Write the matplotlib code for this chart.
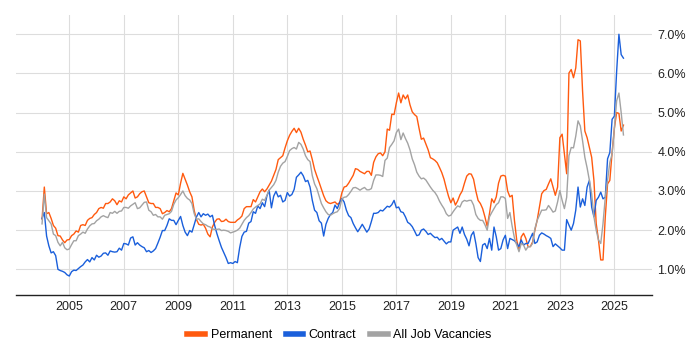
import numpy as np
import matplotlib
matplotlib.use("Agg")
import matplotlib.pyplot as plt
from matplotlib.lines import Line2D

plt.rcParams["font.family"] = ["Liberation Sans", "DejaVu Sans"]

# monthly share of vacancies (%), Jan 2004 .. May 2025
START_YEAR = 2004

permanent = [
    2.28, 3.10, 2.42, 2.45, 2.30, 2.12, 2.05, 1.86, 1.85, 1.75, 1.68, 1.75,  # 2004
    1.76, 1.86, 1.90, 1.98, 1.95, 2.12, 2.14, 2.12, 2.25, 2.30, 2.32, 2.40,  # 2005
    2.45, 2.55, 2.58, 2.56, 2.68, 2.68, 2.72, 2.80, 2.75, 2.65, 2.75, 2.72,  # 2006
    2.85, 2.80, 2.90, 2.95, 3.00, 2.82, 2.85, 2.93, 2.98, 3.00, 2.85, 2.70,  # 2007
    2.68, 2.68, 2.58, 2.58, 2.55, 2.42, 2.45, 2.50, 2.47, 2.55, 2.75, 2.95,  # 2008
    2.90, 3.20, 3.45, 3.30, 3.15, 2.98, 2.85, 2.50, 2.27, 2.15, 2.13, 2.15,  # 2009
    2.05, 1.90, 1.83, 2.08, 2.20, 2.28, 2.29, 2.22, 2.23, 2.28, 2.22, 2.20,  # 2010
    2.20, 2.20, 2.26, 2.30, 2.36, 2.55, 2.60, 2.60, 2.60, 2.78, 2.72, 2.85,  # 2011
    2.98, 3.05, 2.98, 3.05, 3.15, 3.25, 3.40, 3.55, 3.80, 3.85, 3.90, 4.10,  # 2012
    4.28, 4.42, 4.52, 4.60, 4.49, 4.60, 4.50, 4.32, 4.17, 4.00, 4.02, 3.80,  # 2013
    3.55, 3.38, 3.22, 3.05, 2.88, 2.75, 2.70, 2.68, 2.70, 2.72, 2.66, 2.70,  # 2014
    2.95, 3.10, 3.12, 3.20, 3.30, 3.40, 3.57, 3.55, 3.50, 3.47, 3.44, 3.50,  # 2015
    3.50, 3.40, 3.73, 3.87, 3.95, 3.97, 3.90, 4.00, 4.58, 4.55, 4.96, 4.95,  # 2016
    5.25, 5.50, 5.25, 5.45, 5.35, 5.45, 5.20, 5.02, 4.95, 4.90, 4.60, 4.32,  # 2017
    4.35, 4.20, 4.05, 3.85, 3.82, 3.78, 3.72, 3.60, 3.47, 3.30, 3.07, 2.86,  # 2018
    2.70, 2.82, 2.64, 2.75, 2.90, 3.00, 3.20, 3.38, 3.44, 3.43, 3.30, 3.00,  # 2019
    2.76, 2.68, 2.55, 2.34, 2.10, 2.42, 2.80, 2.70, 2.85, 3.20, 3.38, 3.40,  # 2020
    3.38, 3.00, 2.85, 2.89, 2.25, 1.75, 1.49, 1.83, 1.92, 1.79, 1.58, 1.58,  # 2021
    1.70, 2.00, 2.25, 2.59, 2.93, 3.01, 3.04, 3.18, 3.31, 3.10, 2.89, 3.10,  # 2022
    4.36, 4.45, 3.94, 3.44, 6.01, 6.10, 5.89, 6.14, 6.86, 6.83, 5.55, 4.53,  # 2023
    4.36, 4.11, 3.86, 3.27, 2.17, 1.75, 1.24, 1.24, 2.34, 3.18, 3.27, 3.98,  # 2024
    4.60, 5.00, 4.98, 4.53, 4.68,                                            # 2025
]

contract = [
    2.30, 2.45, 1.85, 1.60, 1.42, 1.45, 1.35, 1.00, 0.97, 0.95, 0.92, 0.86,
    0.83, 0.94, 0.98, 0.97, 1.02, 1.07, 1.11, 1.19, 1.25, 1.19, 1.30, 1.24,
    1.36, 1.31, 1.34, 1.41, 1.42, 1.36, 1.47, 1.45, 1.44, 1.45, 1.54, 1.49,
    1.66, 1.65, 1.62, 1.80, 1.83, 1.62, 1.68, 1.62, 1.58, 1.55, 1.45, 1.48,
    1.43, 1.47, 1.53, 1.67, 1.82, 1.99, 1.99, 2.12, 2.29, 2.25, 2.25, 2.14,
    2.25, 2.35, 2.12, 1.95, 1.86, 1.99, 1.95, 2.14, 2.34, 2.45, 2.34, 2.42,
    2.38, 2.41, 2.34, 2.38, 2.12, 1.91, 1.73, 1.56, 1.43, 1.30, 1.15, 1.17,
    1.15, 1.20, 1.17, 1.55, 1.84, 1.95, 1.97, 2.18, 2.22, 2.47, 2.43, 2.62,
    2.55, 2.70, 2.60, 2.87, 3.02, 2.57, 2.87, 2.99, 2.85, 2.89, 2.72, 2.76,
    2.96, 2.87, 2.91, 3.04, 3.35, 3.41, 3.48, 3.39, 3.24, 3.27, 3.10, 2.76,
    2.51, 2.45, 2.24, 2.18, 1.85, 2.15, 2.30, 2.40, 2.45, 2.64, 2.55, 2.70,
    2.81, 2.72, 2.51, 2.37, 2.32, 2.17, 2.06, 1.96, 2.05, 2.15, 2.05, 1.95,
    2.03, 2.22, 2.43, 2.43, 2.45, 2.51, 2.49, 2.55, 2.61, 2.59, 2.65, 2.76,
    2.57, 2.59, 2.47, 2.45, 2.34, 2.20, 2.16, 2.09, 1.98, 1.86, 1.88, 2.00,
    2.03, 1.97, 1.89, 1.92, 1.86, 1.81, 1.82, 1.75, 1.79, 1.72, 1.65, 1.70,
    1.70, 2.00, 2.04, 2.08, 1.92, 2.08, 1.89, 1.77, 1.60, 1.87, 1.96, 1.66,
    1.30, 1.20, 1.62, 1.66, 1.53, 1.79, 1.49, 2.08, 1.83, 1.49, 1.53, 1.75,
    1.87, 1.53, 1.79, 1.76, 1.73, 1.66, 1.58, 1.75, 1.62, 1.66, 1.66, 1.79,
    1.92, 1.66, 1.70, 1.87, 1.93, 1.90, 1.86, 1.83, 1.79, 1.58, 1.65, 1.60,
    1.55, 1.49, 1.49, 2.27, 2.13, 2.00, 2.17, 2.51, 3.10, 2.59, 2.80, 2.63,
    3.10, 3.27, 2.59, 2.34, 2.76, 2.84, 2.97, 2.80, 2.84, 3.82, 3.98, 4.83,
    4.91, 6.05, 7.00, 6.48, 6.39,
]

all_jobs = [
    2.16, 2.92, 2.32, 2.24, 2.16, 1.90, 1.86, 1.69, 1.60, 1.69, 1.55, 1.50,
    1.52, 1.63, 1.73, 1.73, 1.86, 1.90, 1.95, 1.92, 2.03, 2.11, 2.16, 2.17,
    2.24, 2.28, 2.34, 2.37, 2.34, 2.32, 2.45, 2.43, 2.48, 2.43, 2.48, 2.49,
    2.58, 2.58, 2.56, 2.62, 2.66, 2.70, 2.55, 2.57, 2.64, 2.71, 2.72, 2.51,
    2.47, 2.38, 2.40, 2.34, 2.34, 2.28, 2.38, 2.40, 2.42, 2.48, 2.66, 2.77,
    2.83, 2.91, 3.00, 2.88, 2.81, 2.77, 2.68, 2.42, 2.28, 2.29, 2.22, 2.16,
    2.14, 2.10, 2.08, 2.03, 2.02, 2.02, 2.03, 1.99, 2.00, 1.99, 1.97, 1.93,
    1.95, 1.97, 2.00, 2.05, 2.15, 2.25, 2.32, 2.37, 2.45, 2.54, 2.59, 2.63,
    2.67, 2.79, 2.76, 2.89, 3.02, 3.09, 3.16, 3.27, 3.48, 3.63, 3.71, 3.75,
    3.88, 4.03, 4.08, 4.11, 4.07, 4.24, 4.19, 4.07, 3.90, 3.80, 3.75, 3.39,
    3.18, 3.06, 2.87, 2.68, 2.57, 2.47, 2.40, 2.38, 2.42, 2.45, 2.47, 2.55,
    2.79, 2.84, 2.85, 2.91, 2.99, 3.08, 3.09, 3.06, 3.02, 3.06, 3.09, 3.03,
    3.03, 3.06, 3.27, 3.41, 3.41, 3.40, 3.37, 3.78, 3.84, 4.11, 4.19, 4.28,
    4.49, 4.58, 4.31, 4.48, 4.34, 4.22, 4.05, 3.82, 3.67, 3.48, 3.38, 3.31,
    3.33, 3.28, 3.19, 3.10, 3.02, 2.96, 2.87, 2.74, 2.64, 2.55, 2.42, 2.36,
    2.38, 2.47, 2.55, 2.62, 2.59, 2.72, 2.76, 2.74, 2.76, 2.76, 2.64, 2.40,
    2.30, 2.25, 2.25, 2.14, 2.00, 2.34, 2.45, 2.55, 2.65, 2.70, 2.85, 2.85,
    2.81, 2.30, 2.45, 2.10, 1.80, 1.62, 1.45, 1.66, 1.62, 1.49, 1.58, 1.58,
    1.66, 2.04, 2.25, 2.38, 2.51, 2.51, 2.52, 2.63, 2.55, 2.46, 2.49, 2.72,
    3.01, 2.76, 2.55, 2.84, 3.90, 4.11, 4.10, 4.40, 4.79, 4.66, 4.28, 3.86,
    3.59, 3.27, 2.93, 2.34, 2.00, 1.75, 1.66, 2.17, 2.84, 3.27, 3.73, 3.94,
    4.60, 5.30, 5.50, 5.00, 4.43,
]

series_names = ["Permanent", "Contract", "All Job Vacancies"]
series_colors = ["#FF5A0F", "#1A5FDB", "#A3A3A3"]
year_ticks = [2005, 2007, 2009, 2011, 2013, 2015, 2017, 2019, 2021, 2023, 2025]
pct_ticks = [1, 2, 3, 4, 5, 6, 7]

assert len(permanent) == len(contract) == len(all_jobs)
t = START_YEAR + np.arange(len(permanent)) / 12

fig = plt.figure(figsize=(7, 3.5), dpi=100)
ax = fig.add_axes([0.0223, 0.157, 0.9091, 0.800])

for vals, name, col in zip([permanent, contract, all_jobs], series_names, series_colors):
    ax.plot(t, vals, color=col, lw=1.0, label=name)

ax.set_xlim(2003.03, 2026.38)
ax.set_ylim(0.344, 7.49)
ax.yaxis.tick_right()
ax.set_yticks(pct_ticks, [f"{v:.1f}%" for v in pct_ticks])
ax.set_xticks(year_ticks, [str(y) for y in year_ticks])
ax.tick_params(length=0, labelsize=9, colors="#222222")
ax.tick_params(axis="y", pad=4)
ax.tick_params(axis="x", pad=4)
ax.grid(color="#DDDDDD", lw=0.8)
ax.set_axisbelow(True)
for s in ("top", "left", "right"):
    ax.spines[s].set_visible(False)
ax.spines["bottom"].set_color("#222222")
ax.spines["bottom"].set_linewidth(1.0)

handles = [Line2D([], [], color=c, lw=4) for c in series_colors]
fig.legend(handles, series_names, loc="center", bbox_to_anchor=(0.485, 0.043),
           ncol=3, frameon=False, fontsize=9, handlelength=1.4,
           handletextpad=0.45, columnspacing=1.1)

fig.savefig("out.png", dpi=100)
